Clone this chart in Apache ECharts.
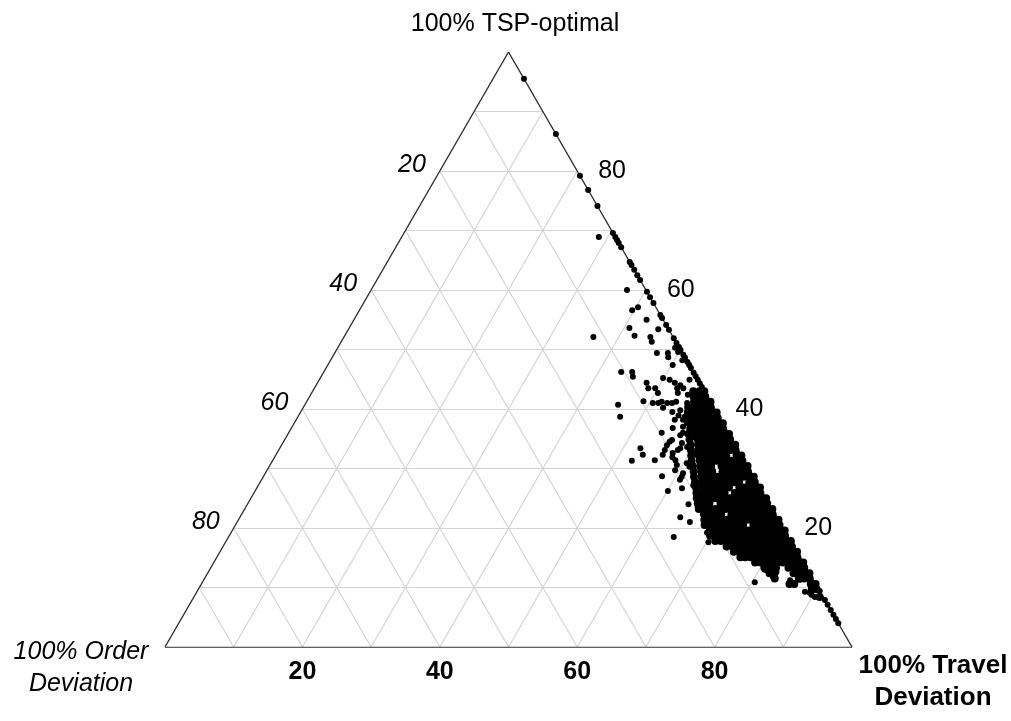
<!DOCTYPE html>
<html>
<head>
<meta charset="utf-8">
<script src="https://cdn.jsdelivr.net/npm/echarts@6/dist/echarts.min.js"></script>
<style>
  html, body { margin: 0; padding: 0; background: #fff; }
  #main { width: 1011px; height: 721px; }
</style>
</head>
<body>
<div id="main"></div>
<script>
// tick labels for the three ternary axes (percent)
const tspTicks = [20, 40, 60, 80];
const orderTicks = [20, 40, 60, 80];
const travelTicks = [20, 40, 60, 80];

// points lying on the right edge (order deviation = 0), TSP-optimal %
const edgeTsp = [95.5, 86.2, 79.2, 76.8, 74.1, 69.6, 68.9, 68.4, 67.9, 67.2,
  64.7, 64.2, 63.4, 62.5, 61.7, 59.7, 58.8, 57.8, 55.8, 55.3, 54.1, 53.3,
  51.9, 51.1, 50.4, 49.9, 49.1, 48.6, 47.9, 47.4, 46.9, 46.1, 45.5, 44.9,
  44.3, 43.7, 9.4, 7.9, 7.1, 6.2, 5.4, 4.7, 4.0];

// scattered points off the edge: [order deviation %, TSP-optimal %]
const offEdge = [
  [2.4, 68.9], [2.75, 60.0], [2.6, 57.1], [3.7, 56.6], [2.4, 55.0], [5.6, 53.6],
  [1.5, 53.4], [11.6, 52.1], [5.5, 52.3], [3.3, 52.1], [3.5, 51.3], [3.7, 49.4],
  [2.1, 49.4], [2.4, 48.7], [0.6, 50.3], [0.5, 49.6], [2.4, 47.4], [0.6, 48.2],
  [10.5, 46.2], [8.9, 46.2], [9.2, 45.4], [7.7, 44.4], [7.9, 43.5], [6.9, 43.5],
  [6.9, 42.7], [4.9, 45.2], [4.1, 44.9], [3.6, 44.4], [3.0, 44.0], [2.8, 43.5],
  [2.7, 42.4], [1.2, 44.9], [4.0, 42.7], [3.7, 43.5],
  [13.7, 40.7], [14.4, 38.7], [9.7, 41.3], [8.5, 41.0], [7.7, 41.0], [7.1, 41.2],
  [7.4, 40.2], [6.4, 41.0], [5.7, 41.0], [5.0, 41.2], [3.5, 41.0], [5.1, 39.8],
  [5.8, 38.9], [5.0, 38.7], [4.5, 38.2], [3.8, 38.5], [3.3, 37.6], [9.7, 36.0],
  [7.7, 36.8], [6.1, 37.0], [5.5, 36.1], [5.5, 35.3], [7.2, 35.6], [7.6, 34.3],
  [6.4, 39.5], [6.7, 38.2], [5.5, 38.2], [5.2, 37.6], [3.5, 39.3], [6.6, 36.0],
  [8.8, 34.8], [8.3, 33.4], [9.8, 32.6], [10.0, 31.4], [7.2, 33.6], [6.8, 32.6],
  [8.5, 30.3], [10.5, 28.6], [10.9, 29.7],
  [14.1, 33.4], [14.3, 32.3], [16.4, 31.3], [13.0, 31.4], [11.4, 32.3], [10.7, 33.1],
  [10.0, 33.9], [9.3, 34.5], [10.2, 31.9], [8.8, 33.1], [8.6, 30.9], [10.2, 30.6],
  [13.3, 28.7], [13.7, 26.2], [11.0, 28.1], [10.0, 29.2], [11.4, 26.7], [11.8, 24.0],
  [10.7, 23.5], [9.5, 27.2], [14.1, 21.8], [16.7, 18.5], [13.1, 21.0], [12.1, 17.6],
  [11.5, 19.2], [8.6, 16.8],
  [8.7, 10.9], [5.9, 12.9], [5.6, 11.8], [3.3, 10.8], [1.9, 11.3], [1.6, 9.1],
  [1.2, 8.4], [6.2, 13.0], [4.7, 12.6], [3.4, 11.2], [2.2, 9.3], [1.5, 8.8]
];

// dense cluster near the right edge, row by row: [TSP-optimal %, [order deviation %]]
const denseRows = [
  [43.0, [0, 0.7, 1.6]],
  [42.1, [0.3, 1.1, 2.0]],
  [41.2, [0, 0.8, 1.5, 2.4]],
  [40.3, [0.4, 1.1, 1.9, 2.8, 3.7]],
  [39.4, [0, 0.7, 1.5, 2.3, 3.2, 4.2]],
  [38.5, [0.3, 1.1, 1.9, 2.6, 3.4, 4.4]],
  [37.6, [0, 0.8, 1.5, 2.2, 3.0, 3.9, 4.8]],
  [36.7, [0.4, 1.1, 1.8, 2.6, 3.4, 4.3, 5.2]],
  [35.8, [0, 0.7, 1.5, 2.3, 3.0, 3.8, 4.7, 5.9]],
  [34.9, [0.3, 1.1, 1.9, 2.6, 3.4, 4.1, 5.0, 6.2]],
  [34.0, [0, 0.8, 1.5, 2.3, 3.0, 3.7, 4.5, 5.4, 6.5]],
  [33.1, [0.4, 1.1, 1.9, 2.6, 3.3, 4.1, 4.9, 5.8, 6.9]],
  [32.2, [0, 0.7, 2.2, 3.0, 3.8, 4.5, 5.3, 6.2, 7.3]],
  [31.3, [0.3, 1.1, 1.9, 2.6, 3.4, 4.1, 4.9, 5.6, 6.5, 7.7]],
  [30.4, [0, 0.8, 1.5, 2.3, 3.0, 3.8, 5.3, 6.0, 6.9, 8.0]],
  [29.5, [0.4, 1.1, 1.9, 2.6, 3.4, 4.1, 5.6, 6.4, 7.2, 8.3]],
  [28.6, [0, 0.7, 1.5, 2.2, 3.0, 3.7, 4.5, 5.3, 6.0, 6.8, 7.6, 8.7]],
  [27.7, [0.3, 1.1, 2.6, 3.3, 4.1, 4.9, 5.6, 6.4, 7.1, 8.0, 9.0]],
  [26.8, [0, 0.8, 1.5, 2.3, 3.0, 4.5, 5.2, 6.0, 6.7, 7.5, 8.3, 9.3]],
  [25.9, [0.4, 1.1, 1.9, 2.6, 3.4, 4.1, 5.6, 6.3, 7.1, 7.9, 8.8, 9.7]],
  [25.0, [0, 0.7, 1.5, 2.2, 3.0, 3.8, 4.5, 5.3, 6.0, 6.8, 7.5, 8.4, 9.3, 10.1]],
  [24.1, [0.3, 1.1, 1.8, 2.6, 3.3, 4.1, 4.9, 5.6, 6.4, 7.1, 8.7, 9.6, 10.4]],
  [23.2, [0, 0.8, 1.5, 2.3, 3.0, 3.8, 4.5, 5.3, 6.0, 6.8, 7.5, 8.3, 9.2, 10.0, 10.7]],
  [22.3, [0.4, 1.1, 1.9, 2.6, 3.4, 4.1, 4.9, 5.6, 6.4, 7.9, 8.6, 9.5, 10.4]],
  [21.4, [0, 0.7, 1.5, 2.2, 3.0, 3.7, 4.5, 5.2, 6.0, 6.7, 7.5, 8.2, 9.0, 9.9, 10.8]],
  [20.5, [0.3, 1.1, 1.8, 2.6, 3.3, 4.1, 5.6, 6.3, 7.1, 7.8, 8.7, 9.6, 10.5, 11.2]],
  [19.6, [0, 0.8, 1.5, 2.3, 3.0, 3.8, 4.5, 5.3, 6.0, 6.8, 7.5, 8.3, 9.1, 10.0, 10.9]],
  [18.7, [0.4, 1.1, 1.9, 2.6, 3.4, 4.1, 4.9, 5.6, 6.4, 7.1, 7.9, 8.7, 9.6, 10.5, 11.3]],
  [17.8, [0, 0.7, 1.5, 2.2, 3.0, 3.7, 4.5, 5.2, 6.0, 6.7, 7.5, 8.4, 9.3, 10.2, 11.0]],
  [16.9, [0.3, 1.1, 1.8, 2.6, 3.3, 4.1, 4.8, 5.6, 6.3, 7.1, 8.0, 8.9, 9.8]],
  [16.0, [0, 0.8, 1.5, 2.3, 3.0, 3.8, 4.5, 5.3, 6.0, 6.8, 7.5, 8.4, 9.2]],
  [15.1, [0.4, 1.1, 1.9, 2.6, 3.4, 4.1, 4.9, 5.6, 6.4, 7.2, 8.0, 8.7]],
  [14.2, [0, 0.8, 1.5, 2.3, 3.0, 3.8, 4.5, 5.4, 6.2, 7.0]],
  [13.3, [0.3, 1.1, 1.9, 2.6, 4.4, 5.2, 6.1]],
  [12.4, [0, 0.8, 1.5, 2.3, 5.1, 5.8]],
  [11.5, [0.4, 1.2, 2.0, 5.5]],
  [10.6, [0, 0.7, 3.1, 3.8]],
  [9.7, [0.3, 1.0]],
  [8.4, [0.5]]
];

const H = Math.sqrt(3) / 2;
// ternary (order, tsp) -> cartesian; travel = 100 - order - tsp
function toXY(order, tsp) {
  return [100 - order - tsp / 2, tsp * H];
}

const points = [];
edgeTsp.forEach(t => points.push(toXY(0, t)));
offEdge.forEach(p => points.push(toXY(p[0], p[1])));
const densePoints = [];
denseRows.forEach(r => r[1].forEach(o => densePoints.push(toXY(o, r[0]))));

// grid lines every 10 %
const gridLines = [];
for (let k = 10; k < 100; k += 10) {
  gridLines.push({ coords: [toXY(100 - k, k), toXY(0, k)] });          // const TSP
  gridLines.push({ coords: [[k, 0], toXY(0, 100 - k)] });              // const travel
  gridLines.push({ coords: [toXY(k, 0), toXY(k, 100 - k)] });          // const order
}
const outline = [
  { coords: [toXY(100, 0), toXY(0, 0)] },
  { coords: [toXY(0, 0), toXY(0, 100)] },
  { coords: [toXY(0, 100), toXY(100, 0)] }
];

const FONT = '"Liberation Sans", Arial, sans-serif';
const tickLabel = (extra) => Object.assign({
  show: true, formatter: p => p.name, color: '#000', opacity: 1,
  fontSize: 25, fontFamily: FONT
}, extra);

const myChart = echarts.init(document.getElementById('main'));
const option = {
  backgroundColor: '#fff',
  animation: false,
  grid: { left: 165, top: 52, width: 687, height: 595 },
  xAxis: { type: 'value', min: 0, max: 100, show: false },
  yAxis: { type: 'value', min: 0, max: 100 * H, show: false },
  graphic: [
    {
      type: 'text', x: 515, y: 24,
      style: { text: '100% TSP-optimal', font: '25px ' + FONT, fill: '#000',
        align: 'center', verticalAlign: 'middle', textAlign: 'center', textVerticalAlign: 'middle' }
    },
    {
      type: 'text', x: 81, y: 668,
      style: { text: '100% Order\nDeviation', font: 'italic 25px ' + FONT, fill: '#000', lineHeight: 32,
        align: 'center', verticalAlign: 'middle', textAlign: 'center', textVerticalAlign: 'middle' }
    },
    {
      type: 'text', x: 933, y: 682,
      style: { text: '100% Travel\nDeviation', font: 'bold 26px ' + FONT, fill: '#000', lineHeight: 32,
        align: 'center', verticalAlign: 'middle', textAlign: 'center', textVerticalAlign: 'middle' }
    }
  ],
  series: [
    {
      type: 'lines', coordinateSystem: 'cartesian2d', silent: true, z: 1,
      lineStyle: { color: '#d4d4d4', width: 1.2, opacity: 1 },
      data: gridLines
    },
    {
      type: 'lines', coordinateSystem: 'cartesian2d', silent: true, z: 2,
      lineStyle: { color: '#2e2e2e', width: 1.4, opacity: 1 },
      data: outline
    },
    {
      type: 'scatter', z: 3, silent: true,
      symbol: 'circle', symbolSize: 6,
      itemStyle: { color: '#000', opacity: 1 },
      data: points
    },
    {
      type: 'scatter', z: 3, silent: true,
      symbol: 'circle', symbolSize: 8,
      itemStyle: { color: '#000', opacity: 1 },
      data: densePoints
    },
    {
      // right edge: TSP-optimal
      type: 'scatter', symbolSize: 0, silent: true, itemStyle: { opacity: 1 },
      label: tickLabel({ position: 'right', distance: 21 }),
      data: tspTicks.map(t => ({ name: String(t), value: toXY(0, t) }))
    },
    {
      // left edge: order deviation
      type: 'scatter', symbolSize: 0, silent: true, itemStyle: { opacity: 1 },
      label: tickLabel({ position: 'left', distance: 14, offset: [0, -6], fontStyle: 'italic' }),
      data: orderTicks.map(o => ({ name: String(o), value: toXY(o, 100 - o) }))
    },
    {
      // bottom edge: travel deviation
      type: 'scatter', symbolSize: 0, silent: true, itemStyle: { opacity: 1 },
      label: tickLabel({ position: 'bottom', distance: 13, fontWeight: 'bold' }),
      data: travelTicks.map(v => ({ name: String(v), value: [v, 0] }))
    }
  ]
};
option && myChart.setOption(option);
</script>
</body>
</html>
